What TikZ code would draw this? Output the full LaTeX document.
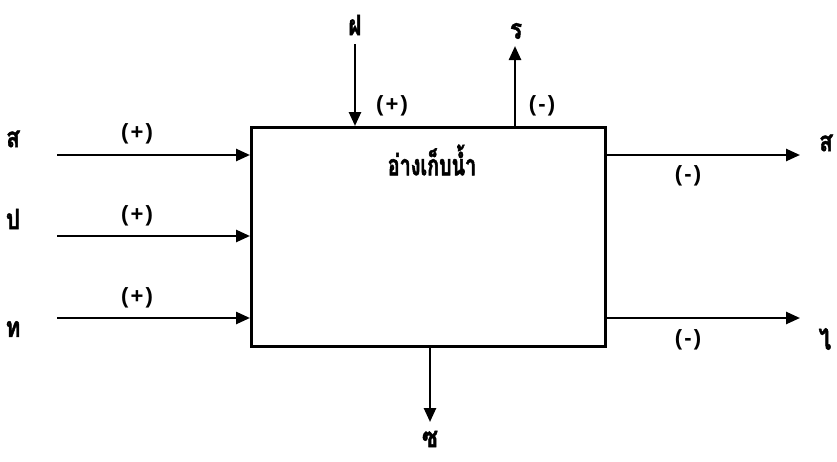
\documentclass[tikz,border=0pt]{standalone}
\usepackage{fontspec}
\newfontfamily\thaifont[Script=Thai,FakeBold=1.5,FakeStretch=0.8]{Loma}
\newfontfamily\thaititle[Script=Thai,FakeBold=1.8,FakeStretch=0.68]{Loma}
\newfontfamily\sgnfont[LetterSpace=10]{Liberation Sans}
\usetikzlibrary{arrows.meta}
\begin{document}
\begin{tikzpicture}[x=1pt,y=-1pt,
  flow/.style={line width=2.5pt,-{Triangle[length=14pt,width=12pt]}},
  lbl/.style={font=\thaifont\bfseries\fontsize{28}{30}\selectfont,inner sep=0pt},
  sgn/.style={font=\sgnfont\bfseries\fontsize{22}{24}\selectfont,inner sep=0pt}]
\useasboundingbox (0,0) rectangle (837,461);
\node[draw,line width=2.5pt,minimum width=354pt,minimum height=219pt,anchor=north west,inner sep=0pt] (box) at (250,126) {};
\node[inner sep=0pt,font=\thaititle\bfseries\fontsize{29}{31}\selectfont] (title) at (432,160) {อ่างเก็บน้ำ};
% left inputs
\coordinate (l1) at (57,155);
\coordinate (l2) at (57,236);
\coordinate (l3) at (57,318);
\draw[flow] (l1) -- (box.west |- l1);
\draw[flow] (l2) -- (box.west |- l2);
\draw[flow] (l3) -- (box.west |- l3);
\node[sgn] (p1) at (137,134) {(+)};
\node[sgn] (p2) at (137,216) {(+)};
\node[sgn] (p3) at (137,298) {(+)};
\node[lbl] (s1) at (13,139) {ส};
\node[lbl] (s2) at (13,219) {ป};
\node[lbl] (s3) at (13,329) {ท};
% top
\coordinate (t1) at (355,44);
\draw[flow] (t1) -- (box.north -| t1);
\node[lbl] (fa) at (355,25) {ฝ};
\node[sgn] (p4) at (392,106) {(+)};
\coordinate (t2) at (515,126);
\coordinate (t2e) at (515,46);
\draw[flow] (t2) -- (t2e);
\node[lbl] (ra) at (516,31) {ร};
\node[sgn] (m1) at (542,106) {(-)};
% right outputs
\coordinate (r1) at (604,155);
\coordinate (r1e) at (800,155);
\coordinate (r2) at (604,318);
\coordinate (r2e) at (800,318);
\draw[flow] (r1) -- (r1e);
\draw[flow] (r2) -- (r2e);
\node[sgn] (m2) at (688,176) {(-)};
\node[sgn] (m3) at (688,340) {(-)};
\node[lbl] (so) at (826,143) {ส};
\node[lbl] (yo) at (825,339) {ไ};
% bottom
\coordinate (b1) at (430,345);
\coordinate (b1e) at (430,422);
\draw[flow] (b1) -- (b1e);
\node[lbl] (so2) at (430,439) {ซ};
\end{tikzpicture}
\end{document}
